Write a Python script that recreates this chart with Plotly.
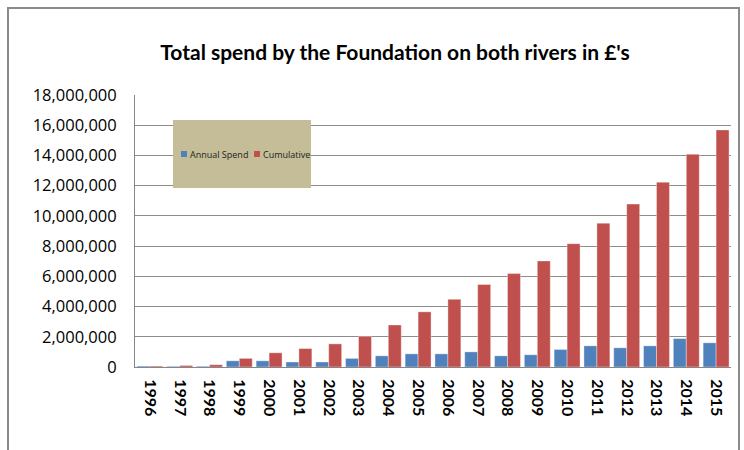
import plotly.graph_objects as go

years = [str(y) for y in range(1996, 2016)]
annual_spend = [60000, 45000, 50000, 410000, 410000, 330000, 330000, 570000, 740000, 870000,
                870000, 1000000, 740000, 810000, 1160000, 1400000, 1270000, 1400000, 1880000, 1600000]
cumulative = [60000, 100000, 150000, 570000, 940000, 1220000, 1530000, 2030000, 2780000, 3650000,
              4480000, 5460000, 6180000, 7020000, 8160000, 9520000, 10780000, 12230000, 14080000, 15690000]
series_names = ["Annual Spend", "Cumulative"]
series_colors = ["#4F81BD", "#C0504D"]
title_text = "Total spend by the Foundation on both rivers in £'s"

W, H = 744, 450
L, R, T, B = 135, 13, 95, 83
pw, ph = W - L - R, H - T - B

def px_x(x):
    return (x - L) / pw

def px_y(y):
    return (H - B - y) / ph

fig = go.Figure()
for name, vals, col in zip(series_names, [annual_spend, cumulative], series_colors):
    fig.add_trace(go.Bar(
        x=years, y=vals, name=name, marker_color=col,
        marker_line=dict(color="rgba(255,255,255,0.45)", width=0.8),
        showlegend=False,
    ))

shapes = [
    # outer chart border
    dict(type="rect", xref="paper", yref="paper",
         x0=px_x(8), x1=px_x(739), y0=px_y(470), y1=px_y(8),
         line=dict(color="#8A8A8A", width=2), fillcolor="rgba(0,0,0,0)", layer="above"),
    # legend box
    dict(type="rect", xref="paper", yref="paper",
         x0=px_x(173), x1=px_x(311), y0=px_y(188), y1=px_y(120),
         line=dict(width=0), fillcolor="#C4BD97", layer="above"),
]
annotations = []
legend_items = [(181, 188), (254, 261)]
for (sx, tx), name, col in zip(legend_items, series_names, series_colors):
    shapes.append(dict(type="rect", xref="paper", yref="paper",
                       x0=px_x(sx), x1=px_x(sx + 6), y0=px_y(157), y1=px_y(151),
                       line=dict(width=0), fillcolor=col, layer="above"))
    annotations.append(dict(text=name, xref="paper", yref="paper",
                            x=px_x(tx), y=px_y(154), xanchor="left", yanchor="middle",
                            showarrow=False, font=dict(family="Open Sans", size=9, color="#222")))

fig.update_layout(
    width=W, height=H,
    margin=dict(l=L, r=R, t=T, b=B),
    paper_bgcolor="white", plot_bgcolor="white",
    barmode="group", bargap=0.13, bargroupgap=0,
    title=dict(text=title_text, x=395 / W, xanchor="center", y=1 - 53 / H, yanchor="middle",
               xref="container", yref="container",
               font=dict(family="Lato", size=21, color="black", weight="bold")),
    shapes=shapes, annotations=annotations,
    xaxis=dict(type="category", tickangle=90, showgrid=False, showline=True,
               linecolor="#868686", linewidth=1, ticks="",
               tickfont=dict(family="Lato", size=16, color="black", weight="bold"),
               ticklabelstandoff=8),
    yaxis=dict(range=[0, 18000000], dtick=2000000, tickformat=",d",
               showgrid=True, gridcolor="#8C8C8C", gridwidth=1,
               showline=True, linecolor="#868686", linewidth=1,
               ticks="",
               tickfont=dict(family="Open Sans", size=16.5, color="black"),
               ticklabelstandoff=14, zeroline=False),
)

fig.write_html("out.html", config={"displayModeBar": False},
               post_script="document.body.style.margin='0';document.body.style.overflow='hidden';")
